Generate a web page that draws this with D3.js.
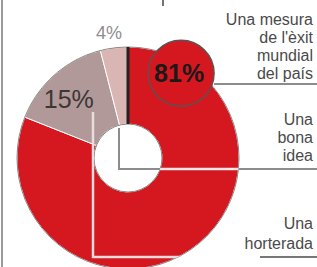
<!DOCTYPE html>
<html>
<head>
<meta charset="utf-8">
<script src="https://cdn.jsdelivr.net/npm/d3@7"></script>
<style>
  html, body { margin: 0; padding: 0; background: #fff; }
  svg { display: block; }
</style>
</head>
<body>
<svg id="chart" width="317" height="267"></svg>
<script>
// ---- data ----
const sliceValues = [81, 15, 4];
const sliceLabels = ["81%", "15%", "4%"];
const sliceColors = ["#d5171f", "#b19999", "#d9b6b4"];
const labelMesura = ["Una mesura", "de l'èxit", "mundial", "del país"];
const labelBona = ["Una", "bona", "idea"];
const labelHorterada = ["Una", "horterada"];

// ---- layout ----
const W = 317, H = 267;
const cx = 128, cy = 158, rOuter = 111, rInner = 34;
const svg = d3.select("#chart");
const fontFam = "'Liberation Sans', Arial, sans-serif";

svg.append("rect").attr("width", W).attr("height", H).attr("fill", "#fff");

// left frame line and top tick
svg.append("line").attr("x1", 2).attr("x2", 2).attr("y1", 0).attr("y2", H)
  .attr("stroke", "#7a7a7a").attr("stroke-width", 1.5);
svg.append("line").attr("x1", 163).attr("x2", 163).attr("y1", 0).attr("y2", 6)
  .attr("stroke", "#444").attr("stroke-width", 1.5);

const pie = d3.pie().sort(null).value(d => d)(sliceValues);
const arc = d3.arc().innerRadius(rInner).outerRadius(rOuter);
const g = svg.append("g").attr("transform", `translate(${cx},${cy})`);

// ring clip
const defs = svg.append("defs");
defs.append("clipPath").attr("id", "ringClip")
  .append("path")
  .attr("transform", `translate(${cx},${cy})`)
  .attr("d", d3.arc().innerRadius(rInner).outerRadius(rOuter)({startAngle: 0, endAngle: 2 * Math.PI}));

g.selectAll("path.slice").data(pie).join("path")
  .attr("class", "slice")
  .attr("d", arc)
  .attr("fill", (d, i) => sliceColors[i])
  .attr("stroke", "#fff").attr("stroke-width", 1);

// outlines
g.append("circle").attr("r", rOuter).attr("fill", "none").attr("stroke", "#6a6a6a").attr("stroke-width", 0.8);
g.append("circle").attr("r", rInner).attr("fill", "none").attr("stroke", "#6a6a6a").attr("stroke-width", 0.8);

// dark separator at the start (top)
g.append("line").attr("x1", 0).attr("x2", 0).attr("y1", -rOuter).attr("y2", -rInner)
  .attr("stroke", "#222").attr("stroke-width", 3);

const polar = (ang, r) => [cx + r * Math.sin(ang), cy - r * Math.cos(ang)];

// ---- leader lines ----
const grey = "#8c8c8c", light = "#f3e7e7";
// "Una bona idea": from the hole down, then right
const bonaPath = d3.path();
bonaPath.moveTo(cx - 9, cy - rInner + 4);
bonaPath.lineTo(cx - 9, cy + 11);
bonaPath.lineTo(W, cy + 11);
svg.append("path").attr("d", bonaPath.toString()).attr("fill", "none")
  .attr("stroke", grey).attr("stroke-width", 2);
svg.append("path").attr("d", bonaPath.toString()).attr("fill", "none")
  .attr("stroke", light).attr("stroke-width", 2.5).attr("clip-path", "url(#ringClip)");

// "Una horterada": from 15% slice down, then right (light inside the ring)
const taupeMid = (pie[1].startAngle + pie[1].endAngle) / 2;
const hortPath = d3.path();
hortPath.moveTo(93, 112);
hortPath.lineTo(93, 257);
hortPath.lineTo(W, 257);
svg.append("path").attr("d", hortPath.toString()).attr("fill", "none")
  .attr("stroke", "#eadcdc").attr("stroke-width", 2.5).attr("clip-path", "url(#ringClip)");
svg.append("line").attr("x1", 260).attr("x2", W).attr("y1", 257).attr("y2", 257)
  .attr("stroke", "#777").attr("stroke-width", 2);

// ---- 81% bubble ----
const [bx, by] = polar(0.56, 100);
const br = 33;
svg.append("line").attr("x1", bx + br).attr("x2", W).attr("y1", 84).attr("y2", 84)
  .attr("stroke", grey).attr("stroke-width", 2);
svg.append("circle").attr("cx", bx).attr("cy", by).attr("r", br)
  .attr("fill", sliceColors[0]).attr("stroke", "#555").attr("stroke-width", 1.4);
svg.append("text").attr("x", bx - 2).attr("y", by + 9)
  .attr("text-anchor", "middle").attr("font-family", fontFam)
  .attr("font-size", 25).attr("font-weight", "bold").attr("fill", "#1a1a1a").text(sliceLabels[0]);

// ---- 15% label ----
const [tx, ty] = polar(taupeMid, 82);
svg.append("text").attr("x", tx - 5).attr("y", ty + 12)
  .attr("text-anchor", "middle").attr("font-family", fontFam)
  .attr("font-size", 25).attr("fill", "#3c3636").text(sliceLabels[1]);

// ---- 4% label ----
const pinkMid = (pie[2].startAngle + pie[2].endAngle) / 2;
const [px, py] = polar(pinkMid, 128);
svg.append("text").attr("x", px - 3).attr("y", py + 8)
  .attr("text-anchor", "middle").attr("font-family", fontFam)
  .attr("font-size", 18).attr("fill", "#8e8e8e").text(sliceLabels[2]);

// ---- right labels ----
function block(lines, yFirst, step) {
  svg.append("g").selectAll("text").data(lines).join("text")
    .attr("x", 313).attr("y", (d, i) => yFirst + i * step)
    .attr("text-anchor", "end").attr("font-family", fontFam)
    .attr("font-size", 16).attr("fill", "#4a4a4a").text(d => d);
}
block(labelMesura, 25, 18);
block(labelBona, 125, 18);
block(labelHorterada, 229, 20);
</script>
</body>
</html>
